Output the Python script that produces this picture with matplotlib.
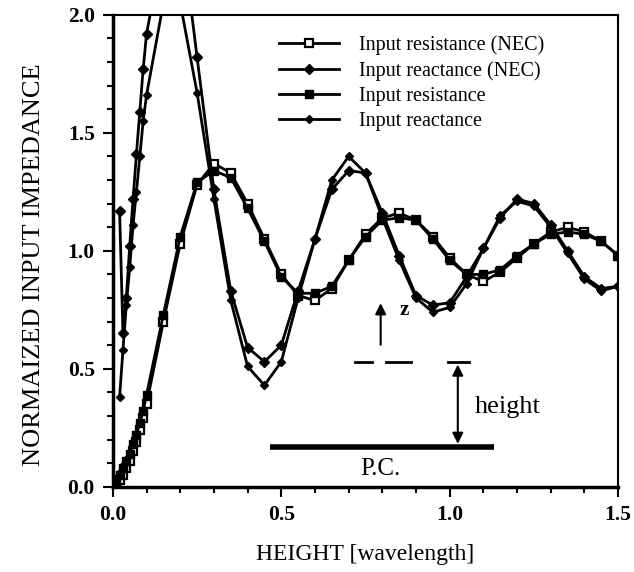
import matplotlib
matplotlib.use('Agg')
import matplotlib.pyplot as plt
from matplotlib.ticker import MultipleLocator, FormatStrFormatter

plt.rcParams['font.family'] = ['Liberation Serif', 'DejaVu Serif']

# Height grid (wavelengths): fine steps near the plane, then 0.05 steps
h_fine = [0.01, 0.02, 0.03, 0.04, 0.05, 0.06, 0.07, 0.08, 0.09, 0.10]
h_coarse = [0.15, 0.20, 0.25, 0.30, 0.35, 0.40, 0.45, 0.50, 0.55, 0.60, 0.65,
            0.70, 0.75, 0.80, 0.85, 0.90, 0.95, 1.00, 1.05, 1.10, 1.15, 1.20,
            1.25, 1.30, 1.35, 1.40, 1.45, 1.50]
height = [0.0] + h_fine + h_coarse

res_nec = [0.0, 0.01, 0.03, 0.05, 0.08, 0.11, 0.15, 0.19, 0.24, 0.29, 0.35,
           0.70, 1.03, 1.28, 1.37, 1.33, 1.20, 1.05, 0.90, 0.81, 0.79, 0.84,
           0.96, 1.07, 1.14, 1.16, 1.13, 1.06, 0.97, 0.90, 0.87, 0.91, 0.97,
           1.03, 1.08, 1.10, 1.08, 1.04, 0.98]
res_calc = [0.0, 0.02, 0.05, 0.08, 0.11, 0.14, 0.18, 0.22, 0.27, 0.32, 0.39,
            0.73, 1.06, 1.29, 1.34, 1.31, 1.18, 1.04, 0.89, 0.82, 0.82, 0.85,
            0.96, 1.06, 1.13, 1.14, 1.13, 1.05, 0.96, 0.90, 0.90, 0.92, 0.98,
            1.03, 1.07, 1.08, 1.07, 1.04, 0.98]

h_react = [0.02, 0.03, 0.04, 0.05, 0.06, 0.07, 0.08, 0.09, 0.10] + h_coarse
react_nec = [1.17, 0.65, 0.80, 1.02, 1.22, 1.41, 1.59, 1.77, 1.92,
             2.30, 2.40, 1.82, 1.26, 0.83, 0.59, 0.53, 0.60, 0.83, 1.05, 1.26,
             1.34, 1.33, 1.16, 0.98, 0.81, 0.77, 0.78, 0.89, 1.01, 1.14, 1.22,
             1.20, 1.11, 1.00, 0.89, 0.84, 0.85]
react_calc = [0.38, 0.58, 0.77, 0.93, 1.11, 1.25, 1.40, 1.55, 1.66,
              2.05, 2.05, 1.67, 1.22, 0.79, 0.51, 0.43, 0.53, 0.80, 1.05, 1.30,
              1.40, 1.33, 1.14, 0.96, 0.80, 0.74, 0.76, 0.86, 1.01, 1.15, 1.21,
              1.19, 1.10, 0.99, 0.88, 0.83, 0.85]

fig = plt.figure(figsize=(6.34, 5.72), dpi=100)
ax = fig.add_axes([0.178, 0.149, 0.797, 0.825])

ax.plot(height, res_nec, color='black', lw=2, marker='s', ms=6,
        mfc='white', mec='black', mew=1.6, label='Input resistance (NEC)')
ax.plot(h_react, react_nec, color='black', lw=2, marker='D', ms=5,
        mfc='black', mec='black', label='Input reactance (NEC)')
ax.plot(height, res_calc, color='black', lw=2, marker='s', ms=6,
        mfc='black', mec='black', label='Input resistance')
ax.plot(h_react, react_calc, color='black', lw=2, marker='D', ms=4.5,
        mfc='black', mec='black', label='Input reactance')

ax.set_xlim(0, 1.5)
ax.set_ylim(0, 2.0)
ax.xaxis.set_major_locator(MultipleLocator(0.5))
ax.xaxis.set_minor_locator(MultipleLocator(0.1))
ax.yaxis.set_major_locator(MultipleLocator(0.5))
ax.yaxis.set_minor_locator(MultipleLocator(0.1))
ax.xaxis.set_major_formatter(FormatStrFormatter('%.1f'))
ax.yaxis.set_major_formatter(FormatStrFormatter('%.1f'))
ax.tick_params(which='major', length=7, width=1.5, labelsize=15.5, pad=6)
ax.tick_params(which='minor', length=4, width=1.5)
for lab in ax.get_xticklabels() + ax.get_yticklabels():
    lab.set_fontweight('bold')
for sp in ax.spines.values():
    sp.set_linewidth(1.5)
ax.spines['left'].set_linewidth(2.5)
ax.spines['bottom'].set_linewidth(2.5)

ax.set_xlabel('HEIGHT [wavelength]', fontsize=17, labelpad=14)
ax.set_ylabel('NORMAIZED INPUT IMPEDANCE', fontsize=19)
ax.yaxis.set_label_coords(-0.135, 0.47)

ax.legend(loc='upper right', bbox_to_anchor=(0.89, 0.995), frameon=False,
          fontsize=14.5, handlelength=3.0, handletextpad=1.0, labelspacing=0.3)

# inset sketch: dipole over perfect conductor
ax.annotate('', xy=(0.795, 0.79), xytext=(0.795, 0.59),
            arrowprops=dict(arrowstyle='-|>', color='black', lw=1.5, mutation_scale=16))
ax.text(0.85, 0.75, 'z', fontsize=15, fontweight='bold', va='center')
ax.plot([0.72, 0.77], [0.53, 0.53], color='black', lw=2)
ax.plot([0.81, 0.885], [0.53, 0.53], color='black', lw=2)
ax.plot([0.994, 1.057], [0.53, 0.53], color='black', lw=2)
ax.annotate('', xy=(1.024, 0.53), xytext=(1.024, 0.17),
            arrowprops=dict(arrowstyle='<|-|>', color='black', lw=1.5, mutation_scale=16))
ax.plot([0.467, 1.131], [0.17, 0.17], color='black', lw=4, solid_capstyle='butt')
ax.text(1.075, 0.34, 'height', fontsize=19, va='center')
ax.text(0.795, 0.075, 'P.C.', fontsize=18, ha='center', va='center')

fig.savefig('out.png', dpi=100)
